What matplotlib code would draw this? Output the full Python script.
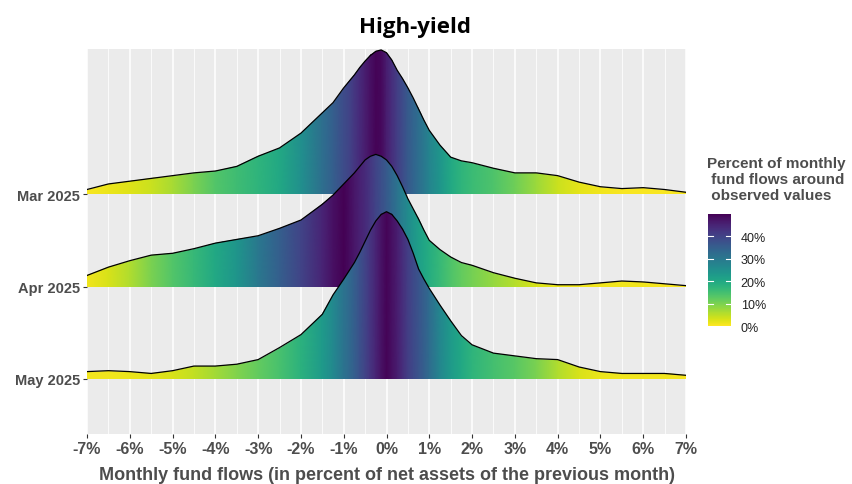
import numpy as np
import matplotlib.pyplot as plt
from matplotlib.patches import Polygon
from matplotlib.colors import Normalize
from matplotlib.cm import ScalarMappable

# fund flow grid (percent of net assets), finer around the peaks
flows = [-7, -6.5, -6, -5.5, -5, -4.5, -4, -3.5, -3, -2.5, -2, -1.5, -1.25,
         -1, -0.875, -0.75, -0.625, -0.5, -0.375, -0.25, -0.125, 0, 0.125, 0.25, 0.375,
         0.5, 0.625, 0.75, 0.875, 1,
         1.25, 1.5, 1.75, 2, 2.5, 3, 3.5, 4, 4.5, 5, 5.5, 6, 6.5, 7]

months = ["May 2025", "Apr 2025", "Mar 2025"]

# ridge heights (scaled density)
mar_height = [0.05, 0.11, 0.14, 0.17, 0.20, 0.23, 0.25, 0.30, 0.41, 0.50, 0.66, 0.88, 0.99,
              1.15, 1.22, 1.29, 1.37, 1.44, 1.50, 1.545, 1.56, 1.53, 1.45, 1.34, 1.25, 1.15,
              1.04, 0.92, 0.80, 0.69,
              0.53, 0.40, 0.36, 0.34, 0.28, 0.23, 0.23, 0.20, 0.13, 0.08, 0.06, 0.07, 0.05, 0.02]
apr_height = [0.12, 0.21, 0.28, 0.34, 0.36, 0.41, 0.47, 0.51, 0.55, 0.63, 0.72, 0.89, 0.99,
              1.11, 1.17, 1.23, 1.30, 1.37, 1.41, 1.43, 1.41, 1.37, 1.30, 1.20, 1.08, 0.95,
              0.84, 0.73, 0.61, 0.50,
              0.40, 0.32, 0.26, 0.23, 0.15, 0.09, 0.04, 0.02, 0.02, 0.04, 0.06, 0.05, 0.03, 0.01]
may_height = [0.08, 0.09, 0.08, 0.06, 0.09, 0.14, 0.14, 0.16, 0.21, 0.34, 0.48, 0.70, 0.91,
              1.08, 1.17, 1.26, 1.37, 1.49, 1.61, 1.71, 1.78, 1.81, 1.78, 1.71, 1.62, 1.51,
              1.36, 1.19, 1.08, 0.98,
              0.80, 0.63, 0.47, 0.37, 0.28, 0.25, 0.22, 0.21, 0.13, 0.08, 0.06, 0.06, 0.06, 0.04]

# percent of monthly fund flows around observed values (fill colour)
mar_share = [0.5, 1.5, 2.5, 4, 6.5, 10, 13.5, 15.5, 17.5, 20, 25, 32, 35,
             38.5, 40, 42, 44, 46, 48, 49.5, 49, 46, 43.5, 41, 38.5, 36, 34, 32, 30, 27.5,
             24, 20, 17.5, 16, 14, 11, 7.5, 4, 2, 1, 0.5, 0.5, 0.5, 0.5]
apr_share = [1, 3, 6, 10, 13.5, 16.5, 20, 24, 30, 35, 40, 45, 48,
             50, 48.5, 47, 45.5, 44, 42, 40, 38, 36, 33.5, 31, 28.5, 26, 24, 22, 20.5, 19,
             16.5, 14, 12, 10.5, 8, 5.5, 3, 1.5, 1, 1, 1, 1, 0.5, 0.5]
may_share = [1, 1, 1.5, 2, 3, 4.5, 7, 9.5, 12, 14.5, 18, 23, 26.5,
             31, 33, 35, 37.5, 40, 42.5, 45, 47.5, 49.5, 48, 46, 43.5, 41, 39, 37, 35, 32.5,
             27, 23, 20, 17.5, 15, 13, 10, 6, 3, 1.5, 1, 1, 1, 0.5]

heights = {"Mar 2025": mar_height, "Apr 2025": apr_height, "May 2025": may_height}
shares = {"Mar 2025": mar_share, "Apr 2025": apr_share, "May 2025": may_share}

W, H = 852, 485
fig = plt.figure(figsize=(W / 100, H / 100), dpi=100)
ax = fig.add_axes([87 / W, 1 - 435 / H, 599 / W, 385 / H])
ax.set_facecolor("#EBEBEB")
for s in ax.spines.values():
    s.set_visible(False)

ax.set_xlim(-7, 7)
ax.set_ylim(0.405, 4.57)
ax.set_xticks(np.arange(-7, 8))
ax.set_xticks(np.arange(-6.5, 7, 1), minor=True)
ax.set_xticklabels([f"{v}%" for v in range(-7, 8)])
ax.set_yticks([1, 2, 3])
ax.set_yticklabels(months)
ax.grid(which="major", axis="x", color="white", lw=1.1)
ax.grid(which="minor", axis="x", color="white", lw=0.55)
ax.set_axisbelow(True)
ax.tick_params(which="minor", length=0)
ax.tick_params(which="major", length=3, width=0.8, color="#333333")
ax.tick_params(axis="x", pad=2)
ax.tick_params(axis="y", pad=2)

for lab in ax.get_xticklabels():
    lab.set_family("Liberation Sans")
    lab.set_fontsize(11.5)
    lab.set_fontweight("bold")
    lab.set_color("#4D4D4D")
for lab in ax.get_yticklabels():
    lab.set_family("Liberation Sans")
    lab.set_fontsize(10.5)
    lab.set_fontweight("bold")
    lab.set_color("#4D4D4D")

cmap = "viridis_r"
norm = Normalize(0, 50)
x = np.array(flows, dtype=float)

# draw from top ridge down so lower ridges overlap
for z, (pos, month) in enumerate([(3, "Mar 2025"), (2, "Apr 2025"), (1, "May 2025")]):
    h = np.array(heights[month])
    c = np.array(shares[month])
    top = pos + h
    verts = np.column_stack([np.r_[x, x[::-1]], np.r_[top, np.full_like(x, pos)]])
    poly = Polygon(verts, closed=True, facecolor="none", edgecolor="none")
    ax.add_patch(poly)
    X = np.vstack([x, x])
    Y = np.vstack([np.full_like(x, pos), np.full_like(x, pos + h.max() + 0.05)])
    C = np.vstack([c, c])
    mesh = ax.pcolormesh(X, Y, C, shading="gouraud", cmap=cmap, norm=norm, zorder=2 + z)
    mesh.set_clip_path(poly)
    ax.plot(x, top, color="black", lw=0.9, zorder=2.5 + z, solid_joinstyle="round")

fig.text(415 / W, 1 - 28 / H, "High-yield", ha="center", va="center",
         fontsize=16, fontweight="bold", family="Open Sans", color="black")
fig.text(387 / W, 1 - 476 / H,
         "Monthly fund flows (in percent of net assets of the previous month)",
         ha="center", va="center", fontsize=13, fontweight="bold",
         family="Liberation Sans", color="#4D4D4D")

# legend colourbar
cax = fig.add_axes([708 / W, 1 - 327 / H, 23 / W, 112 / H])
cb = fig.colorbar(ScalarMappable(norm=norm, cmap=cmap), cax=cax)
cb.outline.set_visible(False)
cb.set_ticks([0, 10, 20, 30, 40])
cb.set_ticklabels(["0%", "10%", "20%", "30%", "40%"])
cax.tick_params(length=0, pad=7, labelsize=9, labelcolor="#222222")
for v in [10, 20, 30, 40]:
    cax.plot([0, 0.2], [v, v], color="white", lw=0.8, transform=cax.get_yaxis_transform())
    cax.plot([0.8, 1], [v, v], color="white", lw=0.8, transform=cax.get_yaxis_transform())
for lab in cax.get_yticklabels():
    lab.set_family("Liberation Sans")

fig.text(707 / W, 1 - 157 / H, "Percent of monthly\n fund flows around\n observed values",
         ha="left", va="top", fontsize=11, fontweight="bold", family="Liberation Sans",
         color="#4D4D4D", linespacing=1.2)

fig.savefig("out.png", dpi=100)
